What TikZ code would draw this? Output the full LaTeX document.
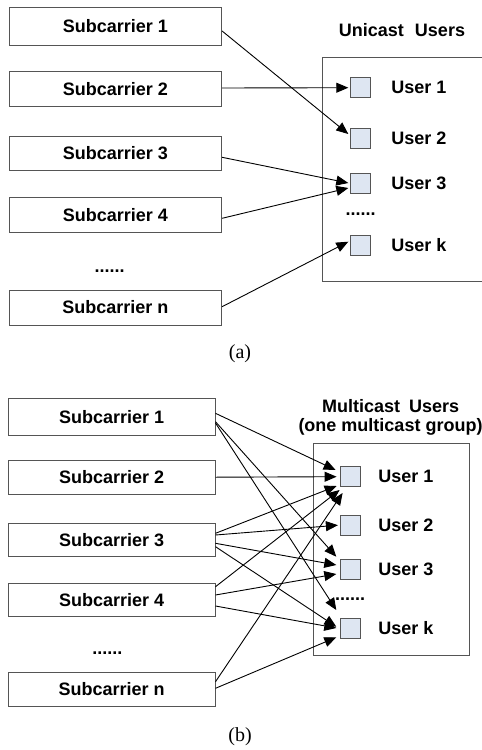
\documentclass[tikz,border=0pt]{standalone}
\usepackage{fontspec}
\setmainfont{Liberation Sans}
\newfontfamily\capfont{Liberation Serif}
\usetikzlibrary{arrows.meta}
\definecolor{ufill}{RGB}{222,230,242}
\definecolor{bgray}{RGB}{85,85,85}
\begin{document}
\begin{tikzpicture}[x=1pt,y=-1pt,
  subA/.style={draw=bgray,line width=0.9pt,inner sep=0pt,minimum width=212.7pt,font=\fontsize{18}{20}\selectfont\bfseries},
  subB/.style={subA,minimum width=206.7pt},
  lbl/.style={inner sep=0pt,font=\fontsize{18}{20}\selectfont\bfseries},
  usq/.style={draw=bgray,line width=0.8pt,fill=ufill,inner sep=0pt,minimum size=20pt},
  boxline/.style={draw=bgray,line width=0.9pt},
  arr/.style={-{Triangle[length=12pt,width=10pt]},line width=0.9pt,black},
  captext/.style={inner sep=0pt,font=\capfont\fontsize{20}{22}\selectfont}]
\useasboundingbox (0,0) rectangle (482,750);

% ---------------- (a) ----------------
\node[subA,minimum height=38.4pt] (s1a) at (115.3,26.5) {Subcarrier 1};
\node[subA,minimum height=35.4pt] (s2a) at (115.3,89) {Subcarrier 2};
\node[subA,minimum height=34.7pt] (s3a) at (115.3,153.3) {Subcarrier 3};
\node[subA,minimum height=34.6pt] (s4a) at (115.3,215) {Subcarrier 4};
\node[lbl] (dotsa) at (109.7,270.7) {......};
\node[subA,minimum height=35pt] (sna) at (115.3,307.5) {Subcarrier n};

\node[lbl] (titlea) at (402,30) {Unicast\hspace{11pt}Users};
\draw[boxline] (482,57) -| (322.3,281) -- (482,281);

\node[usq] (u1a) at (360.7,87.7) {};
\node[usq] (u2a) at (360.7,138.3) {};
\node[usq] (u3a) at (360.7,183.7) {};
\node[lbl] (udotsa) at (360.5,214) {......};
\node[usq] (uka) at (360.7,245) {};
\node[lbl] (l1a) at (419,87.7) {User 1};
\node[lbl] (l2a) at (419,138.3) {User 2};
\node[lbl] (l3a) at (419,183.7) {User 3};
\node[lbl] (lka) at (419,245) {User k};

\draw[arr] ([yshift=-4.5pt]s1a.east) -- ([xshift=-2pt,yshift=4.3pt]u2a.west);
\draw[arr] ([yshift=1pt]s2a.east) -- ([xshift=-2pt]u1a.west);
\draw[arr] ([yshift=-4pt]s3a.east) -- ([xshift=-2pt,yshift=0.7pt]u3a.west);
\draw[arr] ([yshift=-3.3pt]s4a.east) -- ([xshift=-2pt,yshift=-4.3pt]u3a.west);
\draw[arr] ([yshift=0.8pt]sna.east) -- ([xshift=-2pt,yshift=3.3pt]uka.west);

\node[captext] (capa) at (240,354) {(a)};

% ---------------- (b) ----------------
\node[subB,minimum height=36.7pt] (s1b) at (111.7,416.7) {Subcarrier 1};
\node[subB,minimum height=34.3pt] (s2b) at (111.7,477.2) {Subcarrier 2};
\node[subB,minimum height=32.7pt] (s3b) at (111.7,539.7) {Subcarrier 3};
\node[subB,minimum height=32.7pt] (s4b) at (111.7,599.7) {Subcarrier 4};
\node[lbl] (dotsb) at (107.3,653) {......};
\node[subB,minimum height=34.3pt] (snb) at (111.7,689.5) {Subcarrier n};

\node[lbl] (titleb1) at (390.7,406) {Multicast\hspace{9pt}Users};
\node[lbl] (titleb2) at (390.5,426.7) {(one multicast group)};
\draw[boxline] (313.3,443.7) rectangle (469,655.7);

\node[usq] (u1b) at (350,476.7) {};
\node[usq] (u2b) at (350,525.2) {};
\node[usq] (u3b) at (350,569.5) {};
\node[lbl] (udotsb) at (350,599) {......};
\node[usq] (ukb) at (350,628) {};
\node[lbl] (l1b) at (406,476.7) {User 1};
\node[lbl] (l2b) at (406,525.2) {User 2};
\node[lbl] (l3b) at (406,569.5) {User 3};
\node[lbl] (lkb) at (406,628) {User k};

% Subcarrier 1
\draw[arr] ([yshift=3.4pt]s1b.east) -- ([xshift=-4pt,yshift=6.7pt]u1b.west);
\draw[arr] ([yshift=-5pt]s1b.east) -- ([xshift=-3.3pt,yshift=12.8pt]u3b.west);
\draw[arr] ([yshift=-6.3pt]s1b.east) -- ([xshift=-3.3pt,yshift=18pt]ukb.west);
% Subcarrier 2
\draw[arr] (s2b.east) -- ([xshift=-3pt]u1b.west);
% Subcarrier 3
\draw[arr] ([yshift=6.4pt]s3b.east) -- ([xshift=-3pt,yshift=-9.3pt]u1b.west);
\draw[arr] ([yshift=4.7pt]s3b.east) -- ([xshift=-1.7pt]u2b.west);
\draw[arr] ([yshift=-3.6pt]s3b.east) -- ([xshift=-3.3pt,yshift=4.5pt]u3b.west);
\draw[arr] ([yshift=-7pt]s3b.east) -- ([xshift=-3.3pt,yshift=1.3pt]ukb.west);
% Subcarrier 4
\draw[arr] ([yshift=13pt]s4b.east) -- ([yshift=-13.3pt]u1b.west);
\draw[arr] ([yshift=4.7pt]s4b.east) -- ([xshift=-3.3pt,yshift=-4.5pt]u3b.west);
\draw[arr] ([yshift=-6.3pt]s4b.east) -- ([xshift=-3.3pt]ukb.west);
% Subcarrier n
\draw[arr] ([yshift=7.8pt]snb.east) -- ([xshift=3pt,yshift=-16.3pt]u1b.west);
\draw[arr] ([yshift=1.2pt]snb.east) -- ([xshift=-3.3pt,yshift=-9.3pt]ukb.west);

\node[captext] (capb) at (240,737) {(b)};
\end{tikzpicture}
\end{document}
